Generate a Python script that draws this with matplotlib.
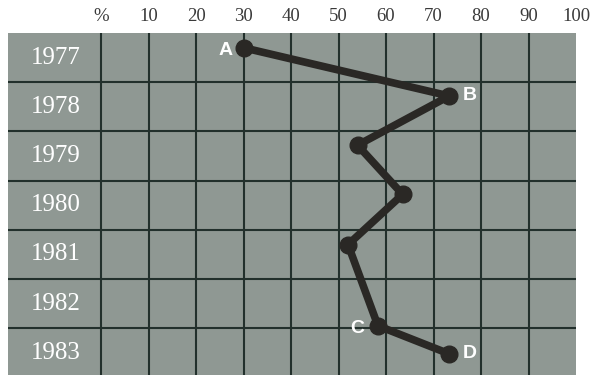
import matplotlib.pyplot as plt

years = [1977, 1978, 1979, 1980, 1981, 1982, 1983]
pct_ticks = [0, 10, 20, 30, 40, 50, 60, 70, 80, 90, 100]
pct_labels = ["%", "10", "20", "30", "40", "50", "60", "70", "80", "90", "100"]

# line points: percent value and vertical position (in year rows)
pct = [30, 73.3, 54, 63.5, 52, 58.3, 73.3]
year_pos = [1976.8, 1977.78, 1978.78, 1979.78, 1980.8, 1982.45, 1983.02]
point_labels = {0: "A", 1: "B", 5: "C", 6: "D"}
label_offsets = {0: (-13, -2), 1: (15, 0), 5: (-15, -2), 6: (15, 0)}

W, H = 590, 375
fig = plt.figure(figsize=(W / 100, H / 100), dpi=100)
ax = fig.add_axes([8 / W, 0, 568 / W, (H - 33) / H])

bg = "#8f9893"
grid_c = "#22302c"
ax.set_facecolor(bg)
ax.set_xlim(-19.6, 100)
ax.set_ylim(1983.45, 1976.5)

for x in pct_ticks[:-1]:
    ax.axvline(x, color=grid_c, lw=1.5, zorder=1)
for y in years[:-1]:
    ax.axhline(y + 0.5, color=grid_c, lw=1.5, zorder=1)

for sp in ax.spines.values():
    sp.set_visible(False)

for y in years:
    ax.text(-9.6, y, str(y), color="white", fontsize=18, family="Liberation Serif",
            ha="center", va="center")

ax.set_xticks(pct_ticks)
ax.set_xticklabels(pct_labels, family="Liberation Serif", fontsize=13.5, color="#3a3a3a")
ax.xaxis.tick_top()
ax.tick_params(axis="x", length=0, pad=6)
ax.set_yticks([])

ax.plot(pct, year_pos, color="#2a2825", lw=5.5, marker="o", markersize=12,
        solid_capstyle="round", zorder=3, clip_on=False)

for i, lab in point_labels.items():
    ax.annotate(lab, (pct[i], year_pos[i]), xytext=label_offsets[i],
                textcoords="offset points", ha="center", va="center",
                color="white", fontsize=14, fontweight="bold",
                family="Liberation Sans", zorder=4)

fig.savefig("out.png", dpi=100)
